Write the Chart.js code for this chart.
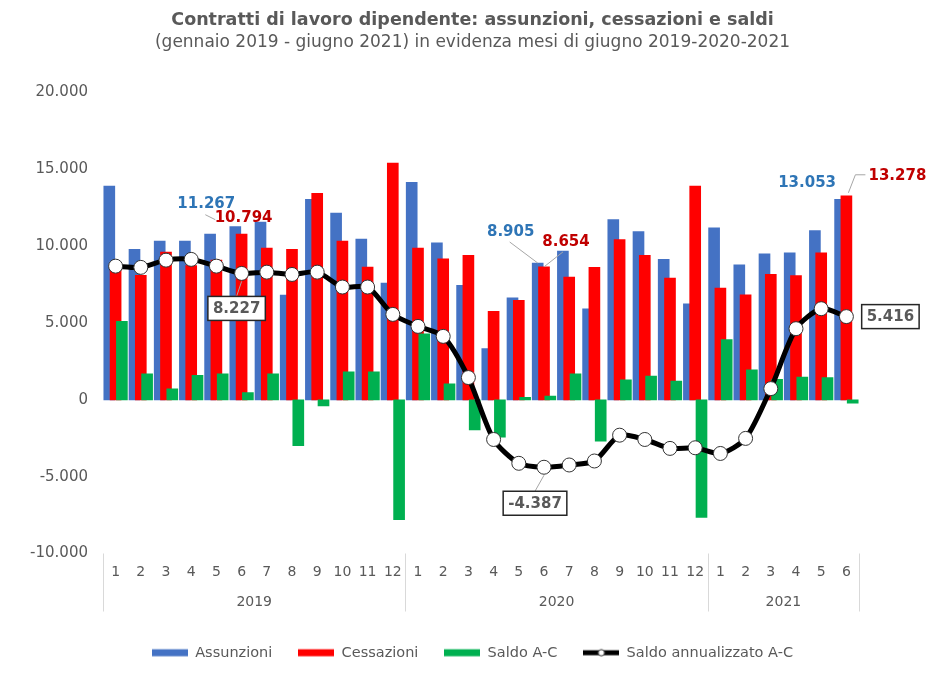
<!DOCTYPE html>
<html>
<head>
<meta charset="utf-8">
<script src="https://cdn.jsdelivr.net/npm/chart.js@4/dist/chart.umd.min.js"></script>
<style>
	html, body { margin: 0; padding: 0; background: #fff; }
	#wrap { width: 945px; height: 675px; }
</style>
</head>
<body>
<div id="wrap"><canvas id="chart"></canvas></div>
<script>
	const mesi = ['1','2','3','4','5','6','7','8','9','10','11','12',
		'1','2','3','4','5','6','7','8','9','10','11','12',
		'1','2','3','4','5','6'];
	const anni = ['2019','2019','2019','2019','2019','2019','2019','2019','2019','2019','2019','2019',
		'2020','2020','2020','2020','2020','2020','2020','2020','2020','2020','2020','2020',
		'2021','2021','2021','2021','2021','2021'];

	const assunzioni = [13910, 9800, 10330, 10330, 10780, 11267, 11560, 6820, 13050, 12150, 10460, 7600,
		14160, 10220, 7450, 3330, 6640, 8905, 9680, 5930, 11730, 10950, 9140, 6250,
		11190, 8790, 9500, 9570, 11020, 13053];
	const cessazioni = [8800, 8100, 9620, 8730, 9090, 10794, 9870, 9800, 13440, 10330, 8640, 15400,
		9870, 9180, 9400, 5760, 6470, 8654, 7990, 8620, 10430, 9400, 7920, 13910,
		7270, 6840, 8160, 8090, 9570, 13278];
	const saldo = [5110, 1700, 710, 1600, 1690, 473, 1690, -2980, -390, 1820, 1820, -7800,
		4290, 1040, -1950, -2430, 170, 251, 1690, -2690, 1300, 1550, 1220, -7660,
		3920, 1950, 1340, 1480, 1450, -225];
	const saldoAnnualizzato = [8700, 8620, 9090, 9140, 8700, 8227, 8310, 8160, 8310, 7340, 7340, 5560,
		4780, 4130, 1450, -2580, -4130, -4387, -4240, -3980, -2300, -2580, -3160, -3120,
		-3490, -2510, 730, 4630, 5930, 5416];

	// mesi di giugno messi in evidenza
	const evidenza = [5, 17, 29];

	const GRIGIO = '#595959';
	const FONT = '"DejaVu Sans", Verdana, sans-serif';
	const barShift = [-0.25, 0, 0.25];

	function fmt(v) {
		const s = String(Math.abs(v)).replace(/\B(?=(\d{3})+(?!\d))/g, '.');
		return (v < 0 ? '-' : '') + s;
	}

	function asBars(values, k) {
		return values.map((v, i) => ({ x: i + barShift[k], y: v }));
	}

	// gruppi di anni (centro e confini) ricavati dalle categorie
	const gruppi = [];
	anni.forEach((a, i) => {
		const g = gruppi[gruppi.length - 1];
		if (g && g.anno === a) g.last = i;
		else gruppi.push({ anno: a, first: i, last: i });
	});

	function icona(color, line) {
		const c = document.createElement('canvas');
		c.width = 36; c.height = 12;
		const g = c.getContext('2d');
		if (line) {
			g.strokeStyle = '#000'; g.lineWidth = 5;
			g.beginPath(); g.moveTo(0, 6); g.lineTo(36, 6); g.stroke();
			g.fillStyle = '#fff'; g.strokeStyle = '#333'; g.lineWidth = 1;
			g.beginPath(); g.arc(18, 6, 3.2, 0, Math.PI * 2); g.fill(); g.stroke();
		} else {
			g.fillStyle = color;
			g.fillRect(0, 2.5, 36, 7);
		}
		return c;
	}
	const icone = [icona('#4472C4'), icona('#FF0000'), icona('#00B050'), icona(null, true)];

	// separatori degli anni sotto l'asse
	const separatori = {
		id: 'separatori',
		afterDraw(chart) {
			const xs = chart.scales.xb, ys = chart.scales.y;
			const ctx = chart.ctx;
			ctx.save();
			ctx.strokeStyle = '#d9d9d9';
			ctx.lineWidth = 1;
			const edges = [gruppi[0].first - 0.5].concat(gruppi.map(g => g.last + 0.5));
			edges.forEach(e => {
				const px = Math.round(xs.getPixelForValue(e)) + 0.5;
				ctx.beginPath();
				ctx.moveTo(px, ys.bottom);
				ctx.lineTo(px, ys.bottom + 58);
				ctx.stroke();
			});
			ctx.restore();
		}
	};

	// etichette dei mesi di giugno
	const callout = [
		{ a: [-29, -23], c: [2, -16], box: [-5, 35] },
		{ a: [-27, -31], c: [22, -25], box: [-9, 36] },
		{ a: [-33, -16], c: [51, -20], box: [44, 0] }
	];
	const etichette = {
		id: 'etichette',
		afterDatasetsDraw(chart) {
			const ctx = chart.ctx;
			const xb = chart.scales.xb, ys = chart.scales.y;
			ctx.save();
			ctx.font = 'bold 15px ' + FONT;
			ctx.textAlign = 'center';
			ctx.textBaseline = 'middle';
			evidenza.forEach((i, k) => {
				const o = callout[k];
				const ax = xb.getPixelForValue(i + barShift[0]), ay = ys.getPixelForValue(assunzioni[i]);
				const cx = xb.getPixelForValue(i + barShift[1]), cy = ys.getPixelForValue(cessazioni[i]);
				const lx = xb.getPixelForValue(i), ly = ys.getPixelForValue(saldoAnnualizzato[i]);
				const la = [ax + o.a[0], ay + o.a[1]];
				const lc = [cx + o.c[0], cy + o.c[1]];
				const lb = [lx + o.box[0], ly + o.box[1]];

				ctx.strokeStyle = '#a6a6a6';
				ctx.lineWidth = 1;
				if (k === 0) {
					ctx.beginPath(); ctx.moveTo(la[0] - 1, la[1] + 11); ctx.lineTo(la[0] + 9, la[1] + 16); ctx.stroke();
				}
				if (k === 1) {
					ctx.beginPath(); ctx.moveTo(la[0] - 1, la[1] + 10); ctx.lineTo(ax, ay); ctx.stroke();
					ctx.beginPath(); ctx.moveTo(lc[0] - 3, lc[1] + 10); ctx.lineTo(cx, cy); ctx.stroke();
				}
				if (k === 2) {
					ctx.beginPath(); ctx.moveTo(cx + 2, cy - 3); ctx.lineTo(cx + 9, lc[1] - 1); ctx.lineTo(lc[0] - 32, lc[1] - 1); ctx.stroke();
				}
				if (o.box[1] !== 0) {
					ctx.beginPath(); ctx.moveTo(lx, ly + 8); ctx.lineTo(lb[0], lb[1] - 12); ctx.stroke();
				}

				ctx.fillStyle = '#2E75B6';
				ctx.fillText(fmt(assunzioni[i]), la[0], la[1]);
				ctx.fillStyle = '#C00000';
				ctx.fillText(fmt(cessazioni[i]), lc[0], lc[1]);

				const t = fmt(saldoAnnualizzato[i]);
				const w = ctx.measureText(t).width + 10, h = 24;
				ctx.fillStyle = '#fff';
				ctx.fillRect(lb[0] - w / 2, lb[1] - h / 2, w, h);
				ctx.strokeStyle = '#262626';
				ctx.lineWidth = 1.5;
				ctx.strokeRect(lb[0] - w / 2, lb[1] - h / 2, w, h);
				ctx.fillStyle = GRIGIO;
				ctx.fillText(t, lb[0], lb[1] + 1);
			});
			ctx.restore();
		}
	};

	const barOpts = { xAxisID: 'xb', grouped: false, barThickness: 11, borderWidth: 0 };

	const config = {
		type: 'bar',
		data: {
			labels: mesi,
			datasets: [
				Object.assign({ label: 'Assunzioni', data: asBars(assunzioni, 0), backgroundColor: '#4472C4', order: 3 }, barOpts),
				Object.assign({ label: 'Cessazioni', data: asBars(cessazioni, 1), backgroundColor: '#FF0000', order: 2 }, barOpts),
				Object.assign({ label: 'Saldo A-C', data: asBars(saldo, 2), backgroundColor: '#00B050', order: 1 }, barOpts),
				{
					type: 'line',
					label: 'Saldo annualizzato A-C',
					data: saldoAnnualizzato,
					xAxisID: 'x',
					order: 0,
					borderColor: '#000',
					borderWidth: 5,
					tension: 0.25,
					pointRadius: 7,
					pointBackgroundColor: '#fff',
					pointBorderColor: '#333',
					pointBorderWidth: 1,
					backgroundColor: '#000'
				}
			]
		},
		options: {
			responsive: true,
			maintainAspectRatio: false,
			animation: false,
			layout: { padding: { left: 0, right: 0, top: 0, bottom: 5 } },
			plugins: {
				title: {
					display: true,
					text: 'Contratti di lavoro dipendente: assunzioni, cessazioni e saldi',
					color: GRIGIO,
					font: { family: FONT, size: 17.5, weight: 'bold', lineHeight: 1.0 },
					padding: { top: 12, bottom: 3 }
				},
				subtitle: {
					display: true,
					text: '(gennaio 2019 - giugno 2021) in evidenza mesi di giugno 2019-2020-2021',
					color: GRIGIO,
					font: { family: FONT, size: 17, lineHeight: 1.0 },
					padding: { top: 2, bottom: 41 }
				},
				legend: {
					position: 'bottom',
					labels: {
						color: GRIGIO,
						font: { family: FONT, size: 14.5 },
						usePointStyle: true,
						pointStyleWidth: 36,
						boxHeight: 12,
						padding: 26,
						sort: (a, b) => a.datasetIndex - b.datasetIndex,
						generateLabels(chart) {
							const items = Chart.defaults.plugins.legend.labels.generateLabels(chart);
							items.forEach(it => { it.pointStyle = icone[it.datasetIndex]; });
							return items;
						}
					}
				},
				tooltip: { enabled: false }
			},
			scales: {
				x: {
					type: 'category',
					position: 'bottom',
					weight: 1,
					offset: true,
					grid: { display: false, drawTicks: false },
					border: { display: false },
					ticks: { color: GRIGIO, font: { family: FONT, size: 14 }, padding: 10, autoSkip: false, maxRotation: 0 },
					afterFit(s) { s.height = 27; }
				},
				anni: {
					type: 'linear',
					position: 'bottom',
					weight: 2,
					offset: false,
					min: -0.5,
					max: mesi.length - 0.5,
					grid: { display: false, drawTicks: false },
					border: { display: false },
					afterBuildTicks(s) { s.ticks = gruppi.map(g => ({ value: (g.first + g.last) / 2 })); },
					ticks: {
						color: GRIGIO,
						font: { family: FONT, size: 14 },
						padding: 13,
						autoSkip: false,
						maxRotation: 0,
						callback(v) {
							const g = gruppi.find(g => (g.first + g.last) / 2 === v);
							return g ? g.anno : '';
						}
					},
					afterFit(s) { s.height = 39; }
				},
				xb: {
					type: 'linear',
					display: false,
					offset: false,
					min: -0.5,
					max: mesi.length - 0.5
				},
				y: {
					min: -10000,
					max: 20000,
					grid: { display: false, drawTicks: false },
					border: { display: false },
					ticks: {
						stepSize: 5000,
						color: GRIGIO,
						font: { family: FONT, size: 15 },
						padding: 15,
						callback: v => fmt(v)
					},
					afterFit(s) { s.width = 103; }
				},
				margine: {
					type: 'linear',
					position: 'right',
					grid: { display: false, drawTicks: false },
					border: { display: false },
					ticks: { display: false },
					afterFit(s) { s.width = 86; }
				}
			}
		},
		plugins: [separatori, etichette]
	};

	new Chart(document.getElementById('chart'), config);
</script>
</body>
</html>
